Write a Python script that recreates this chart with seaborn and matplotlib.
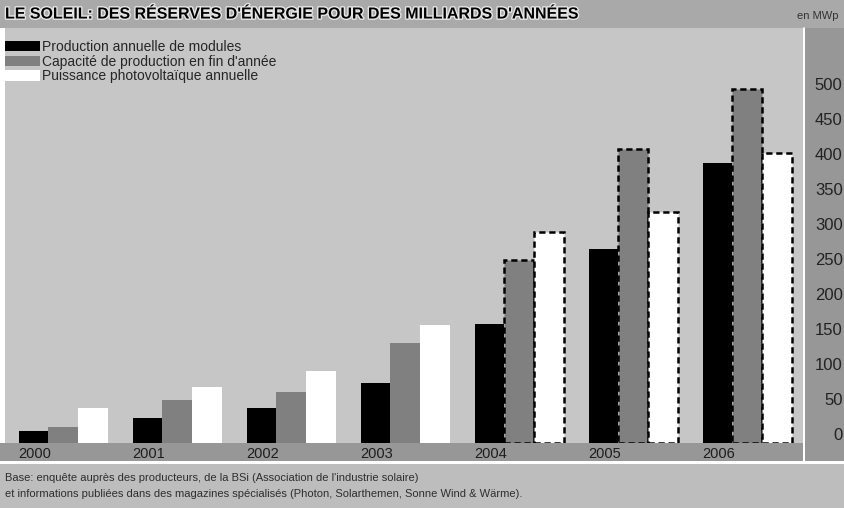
import numpy as np
import pandas as pd
import matplotlib
matplotlib.use("Agg")
import matplotlib.pyplot as plt
import matplotlib.patheffects as pe
from matplotlib.patches import Rectangle, Patch
import seaborn as sns

# ── data (MWp) ───────────────────────────────────────────────
years       = ["2000", "2001", "2002", "2003", "2004", "2005", "2006"]
production  = [17, 36, 50, 86, 170, 277, 400]
capacite    = [23, 61, 73, 143, 261, 420, 506]
puissance   = [50, 80, 103, 169, 301, 330, 414]
series      = ["Production annuelle de modules",
               "Capacité de production en fin d'année",
               "Puissance photovoltaïque annuelle"]
yticks      = [0, 50, 100, 150, 200, 250, 300, 350, 400, 450, 500]
dashed_from = "2004"   # estimated values drawn with dashed outline

df = pd.DataFrame({
    "year":  years * 3,
    "serie": [series[0]] * 7 + [series[1]] * 7 + [series[2]] * 7,
    "mwp":   production + capacite + puissance,
})

# ── style ────────────────────────────────────────────────────
sns.set_style("white")
plt.rcParams["font.family"] = ["Liberation Sans", "DejaVu Sans"]

BG     = "#c6c6c6"
GREY   = "#808080"
PANEL  = "#979797"
palette = {series[0]: "#000000", series[1]: GREY, series[2]: "#ffffff"}

W, H = 845, 508
fig = plt.figure(figsize=(W / 100, H / 100), dpi=100)
fig.patch.set_facecolor("white")

def box(x0, y0, x1, y1, color):
    # pixel box, origin top-left
    fig.add_artist(Rectangle((x0 / W, 1 - y1 / H), (x1 - x0) / W, (y1 - y0) / H,
                             transform=fig.transFigure, facecolor=color,
                             edgecolor="none", zorder=-1))

box(0, 0, W, 28, "#a9a9a9")        # title band
box(0, 443, 803, 461, PANEL)        # year band
box(805, 28, W, 461, PANEL)         # value panel
box(0, 464, W, H, "#bdbdbd")        # source band

# ── main bar chart ───────────────────────────────────────────
ax = fig.add_axes([5 / W, 1 - 443 / H, 798 / W, 415 / H])
ax.set_facecolor(BG)
sns.barplot(data=df, x="year", y="mwp", hue="serie", hue_order=series,
            palette=palette, width=0.78, linewidth=0, saturation=1,
            legend=False, ax=ax)

for cont, name in zip(ax.containers, series):
    if name == series[0]:
        continue
    for bar, yr in zip(cont, years):
        if yr >= dashed_from:
            bar.set_edgecolor("black")
            bar.set_linewidth(1.8)
            bar.set_linestyle((0, (2.5, 1.5)))

ax.set_xlim(-0.51, 6.49)
ax.set_ylim(0, 593)
for s in ax.spines.values():
    s.set_visible(False)
ax.set_xlabel("")
ax.set_ylabel("")

ax.set_xticks(np.arange(len(years)) - 0.25, labels=years)
ax.tick_params(axis="x", length=0, pad=3, labelsize=10.5, labelcolor="#1e1e1e")

ax.yaxis.tick_right()
ax.set_yticks(yticks, labels=[str(v) for v in yticks])
ax.tick_params(axis="y", length=0, pad=28.5, labelsize=12, labelcolor="#222222")
for lbl in ax.get_yticklabels():
    lbl.set_va("bottom")
    lbl.set_ha("right")

handles = [Patch(facecolor=palette[s], edgecolor="none", label=s) for s in series]
fig.legend(handles=handles, loc="upper left", frameon=False, fontsize=10,
           handlelength=2.5, handleheight=0.75, handletextpad=0.2,
           labelspacing=0.05, borderaxespad=0.0, borderpad=0.0,
           bbox_to_anchor=(5 / W, 1 - 40 / H), bbox_transform=fig.transFigure)

fig.add_artist(plt.Line2D([804 / W, 804 / W], [1 - 461 / H, 1 - 28 / H],
                          transform=fig.transFigure, color="white", lw=1.2))

# ── texts ────────────────────────────────────────────────────
fig.text(5 / W, 1 - 14 / H,
         "LE SOLEIL: DES RÉSERVES D'ÉNERGIE POUR DES MILLIARDS D'ANNÉES",
         fontsize=11.5, fontweight="bold", color="black", va="center", ha="left",
         path_effects=[pe.withStroke(linewidth=2, foreground="#e6e6e6")])
fig.text(797 / W, 1 - 16 / H, "en MWp", fontsize=8, color="#333333",
         va="center", ha="left")

fig.text(5 / W, 1 - 478 / H,
         "Base: enquête auprès des producteurs, de la BSi (Association de l'industrie solaire)",
         fontsize=8, color="#2e2e2e", va="center", ha="left")
fig.text(5 / W, 1 - 494 / H,
         "et informations publiées dans des magazines spécialisés (Photon, Solarthemen, Sonne Wind & Wärme).",
         fontsize=8, color="#2e2e2e", va="center", ha="left")

plt.savefig("out.png", dpi=100)
